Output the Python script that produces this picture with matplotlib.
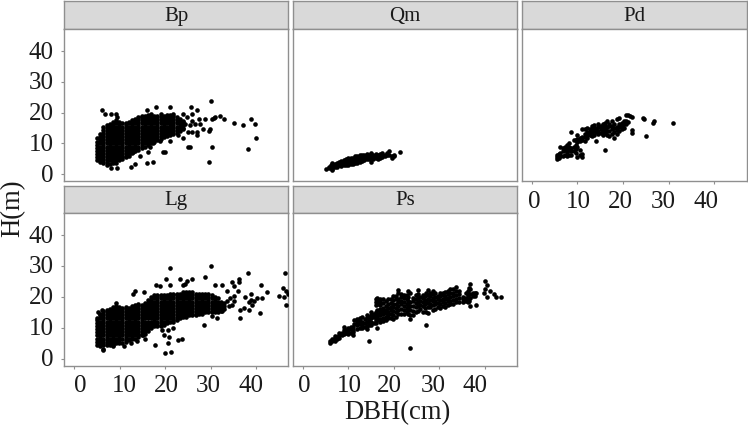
#! /usr/bin/env python

import matplotlib
matplotlib.use("Agg")
import matplotlib.pyplot as plt

plt.rcParams["font.family"] = ["Liberation Serif", "DejaVu Serif"]

W, H = 748.0, 430.0
DOT = 11
EDGE = "#8f8f8f"

tick_vals = [0, 10, 20, 30, 40]

# each entry: DBH, then the heights measured at about that DBH
bp_cols = [
    (5.0, [4.5, 5.5, 6.5, 7.5, 8.5, 9.5, 10.5, 11.8]),
    (5.7, [4, 5, 6, 7, 8, 9, 10, 11, 12, 13]),
    (6.4, [3.5, 4.5, 5.5, 6.5, 7.5, 8.5, 9.5, 10.5, 11.5, 12.5, 13.5, 14.5, 15.2]),
    (7.1, [3, 4, 5, 6, 7, 8, 9, 10, 11, 12, 13, 14, 15, 16]),
    (7.8, [3.2, 4.5, 5.5, 6.5, 7.5, 8.5, 9.5, 10.5, 11.5, 12.5, 13.5, 14.5, 15.5, 16.4]),
    (8.5, [3.5, 4, 5, 6, 7, 8, 9, 10, 11, 12, 13, 14, 15, 16, 17]),
    (9.2, [3.5, 4.5, 5.5, 6.5, 7.5, 8.5, 9.5, 10.5, 11.5, 12.5, 13.5, 14.5, 15.5, 16.5, 17.5]),
    (9.9, [4.5, 5, 6, 7, 8, 9, 10, 11, 12, 13, 14, 15, 16, 17]),
    (10.6, [5, 5.5, 6.5, 7.5, 8.5, 9.5, 10.5, 11.5, 12.5, 13.5, 14.5, 15.5, 16.5]),
    (11.3, [5.5, 6, 7, 8, 9, 10, 11, 12, 13, 14, 15, 16, 16.6]),
    (12.0, [6, 6.5, 7.5, 8.5, 9.5, 10.5, 11.5, 12.5, 13.5, 14.5, 15.5, 16.5, 17]),
    (12.7, [7, 8, 9, 10, 11, 12, 13, 14, 15, 16, 17, 17.6]),
    (13.4, [7.5, 8.5, 9.5, 10.5, 11.5, 12.5, 13.5, 14.5, 15.5, 16.5, 17.5, 18]),
    (14.1, [8, 9, 10, 11, 12, 13, 14, 15, 16, 17, 18, 18.6]),
    (14.8, [8.5, 9.5, 10.5, 11.5, 12.5, 13.5, 14.5, 15.5, 16.5, 17.5, 18.5, 19]),
    (15.5, [9, 10, 11, 12, 13, 14, 15, 16, 17, 18, 19]),
    (16.2, [9.5, 10.5, 11.5, 12.5, 13.5, 14.5, 15.5, 16.5, 17.5, 18.5, 19.2]),
    (16.9, [10, 11, 12, 13, 14, 15, 16, 17, 18, 19, 19.6]),
    (17.6, [10.5, 11.5, 12.5, 13.5, 14.5, 15.5, 16.5, 17.5, 18.5, 19]),
    (18.3, [11, 12, 13, 14, 15, 16, 17, 18, 19]),
    (19.0, [11.5, 12.5, 13.5, 14.5, 15.5, 16.5, 17.5, 18.5, 19.5]),
    (19.7, [12, 13, 14, 15, 16, 17, 18, 19]),
    (20.4, [12.5, 13.5, 14.5, 15.5, 16.5, 17.5, 18.5, 19.2]),
    (21.1, [12.6, 13.6, 14.6, 15.6, 16.6, 17.6, 18.6, 19.2]),
    (21.8, [13, 14, 15, 16, 17, 18, 19, 19.5]),
    (22.5, [13.5, 14.5, 15.5, 16.5, 17.5, 18.5]),
    (23.2, [14, 15, 16, 17, 18]),
    (23.9, [15, 16, 17]),
]
bp_x = [6.0, 6.8, 8.0, 9.1, 9.3, 16.0, 17.9, 21.0, 24.0, 25.6, 27.0, 30.0, 25.9, 24.8, 23.9, 24.4, 25.9,
        25.5, 26.5, 24.0, 25.1, 25.9, 27.0, 27.0, 27.5, 27.7, 28.3, 28.8, 29.9, 29.6, 30.3, 31.0, 32.1,
        33.0, 30.7, 35.1, 37.2, 39.0, 39.7, 40.0, 38.3, 30.2, 25.1, 25.5, 29.6, 23.9, 22.9, 21.0, 19.5,
        20.0, 18.9, 17.4, 16.0, 13.4, 12.4, 9.5, 8.0, 14.5, 16.3, 16.7, 17.4, 13.0]
bp_y = [20.8, 19.7, 19.7, 19.7, 18.6, 20.8, 21.8, 21.8, 19.7, 21.8, 20.8, 23.8, 19.7, 18.6, 17.3, 16.3, 17.3,
        16.0, 16.3, 14.8, 13.8, 13.8, 13.8, 12.7, 17.8, 16.3, 14.8, 17.8, 14.8, 14.1, 17.8, 18.6, 18.9,
        17.8, 18.4, 16.8, 15.9, 17.8, 16.3, 11.8, 8.3, 8.8, 8.8, 8.8, 4.0, 11.8, 12.7, 10.8, 7.3,
        7.3, 10.8, 4.0, 3.8, 3.3, 2.4, 2.0, 2.0, 5.9, 7.3, 8.9, 10.0, 7.3]

qm_cols = [
    (5.1, [1.8]), (5.7, [2.3, 1.9]), (6.2, [2.2, 3.0]), (6.5, [1.3, 1.8, 2.6, 3.5]), (7.0, [2.5, 3.2]),
    (7.5, [2.4, 3.0, 3.7]), (8.0, [2.9, 3.5, 4.0]), (8.5, [2.8, 3.4, 4.2]), (9.0, [3.1, 3.7, 4.5]),
    (9.5, [3.0, 3.6, 4.2, 4.8]), (10.0, [3.1, 3.8, 4.5, 5.2]), (10.5, [3.3, 4.0, 4.6, 5.4]),
    (11.0, [3.2, 3.9, 4.6, 5.3]), (11.5, [3.6, 4.3, 5.0, 5.8]), (12.0, [3.8, 4.5, 5.2, 6.0]),
    (12.5, [4.1, 4.7, 5.4, 6.2]), (13.0, [4.4, 5.0, 5.7, 6.4]), (13.5, [4.6, 5.2, 5.9, 6.4]),
    (14.0, [4.8, 5.4, 6.2, 6.6]), (14.5, [5.0, 5.7, 6.4]), (15.0, [3.9, 5.2, 5.9, 6.8]),
    (15.5, [5.0, 5.6, 6.3]), (16.0, [5.2, 6.0, 6.6]), (16.5, [5.0, 5.7, 6.4]), (17.0, [5.3, 6.0, 6.6]),
    (17.5, [5.6, 6.3, 6.8]), (18.0, [5.8, 6.4]), (18.5, [6.2, 6.8]), (19.0, [7.4, 6.4]),
    (19.6, [6.0, 5.3]), (20.0, [6.4, 5.9]), (21.3, [7.3]),
]

pd_cols = [
    (5.5, [4.8, 5.6, 6.2]), (5.9, [5.2, 6.5]), (6.3, [6.0, 6.8, 8.9]), (6.8, [6.0, 7.4, 8.4]),
    (7.3, [6.2, 7.8, 8.8]), (7.8, [6.0, 7.2, 8.6, 9.4]), (8.2, [6.4, 8.0, 9.0, 10.0]),
    (8.6, [6.4, 7.6, 8.6, 13.8]), (9.2, [7.4, 9.0, 11.0]), (9.6, [6.8, 8.2, 9.6, 11.0]),
    (9.9, [5.6, 9.0, 10.6, 11.6, 12.9]), (10.5, [6.2, 7.8, 10.8, 11.8]), (11.0, [5.6, 6.7, 11.2, 12.2, 14.8]),
    (11.6, [10.8, 12.0, 13.0, 14.8]), (12.2, [11.8, 12.8, 13.8, 15.0]), (12.7, [12.6, 13.6, 14.6]),
    (13.2, [12.4, 13.6, 14.6, 15.6]), (13.7, [12.8, 14.0, 15.2, 16.0]), (14.0, [10.8, 13.6, 14.8]),
    (14.6, [13.0, 14.2, 15.4, 16.2]), (15.1, [13.4, 14.6, 15.8]), (15.6, [12.8, 14.0, 15.0, 16.2]),
    (16.0, [7.8, 13.4, 14.6, 15.6, 16.8]), (16.5, [12.6, 14.2, 15.4, 17.4]), (17.0, [12.4, 14.2, 15.6, 16.4]),
    (17.5, [13.2, 14.6, 15.8, 17.4]), (18.0, [11.9, 13.8, 15.0, 16.2]), (18.6, [13.0, 14.4, 15.4, 17.8]),
    (19.2, [14.2, 15.2, 16.2, 18.2]), (19.7, [14.6, 15.8, 16.6]), (20.2, [15.0, 16.2, 17.2]),
    (20.7, [16.4, 17.2, 19.4]), (21.0, [17.0, 19.2]), (21.6, [18.9]), (22.0, [13.4, 14.3, 18.6]),
    (24.4, [18.3]), (24.7, [17.9]), (25.0, [12.4]), (26.5, [16.8]), (26.8, [17.3]), (30.9, [16.8]),
]

lg_cols = [
    (5.0, [4.5, 5.5, 6.5, 7.5, 8.5, 9.5, 10.5, 11.5, 12.5, 13]),
    (5.7, [4, 5, 6, 7, 8, 9, 10, 11, 12, 13, 14, 14.5]),
    (6.4, [3.2, 4.5, 5.5, 6.5, 7.5, 8.5, 9.5, 10.5, 11.5, 12.5, 13.5, 14.5, 15.5]),
    (7.1, [4.5, 5, 6, 7, 8, 9, 10, 11, 12, 13, 14, 15, 15.6]),
    (7.8, [4.5, 5.5, 6.5, 7.5, 8.5, 9.5, 10.5, 11.5, 12.5, 13.5, 14.5, 15.5, 16]),
    (8.5, [4.5, 5, 6, 7, 8, 9, 10, 11, 12, 13, 14, 15, 16, 16.6]),
    (9.2, [5, 5.5, 6.5, 7.5, 8.5, 9.5, 10.5, 11.5, 12.5, 13.5, 14.5, 15.5, 16.5, 17.2]),
    (9.9, [5, 6, 7, 8, 9, 10, 11, 12, 13, 14, 15, 16, 16.6]),
    (10.6, [5.2, 6.5, 7.5, 8.5, 9.5, 10.5, 11.5, 12.5, 13.5, 14.5, 15.5, 16.5]),
    (11.3, [5.5, 6, 7, 8, 9, 10, 11, 12, 13, 14, 15, 16, 16.6]),
    (12.0, [6, 6.5, 7.5, 8.5, 9.5, 10.5, 11.5, 12.5, 13.5, 14.5, 15.5, 16.5]),
    (12.7, [6.5, 7, 8, 9, 10, 11, 12, 13, 14, 15, 16, 17]),
    (13.4, [6.5, 7.5, 8.5, 9.5, 10.5, 11.5, 12.5, 13.5, 14.5, 15.5, 16.5, 17.5]),
    (14.1, [7, 8, 9, 10, 11, 12, 13, 14, 15, 16, 17, 17.6]),
    (14.8, [7.5, 8.5, 9.5, 10.5, 11.5, 12.5, 13.5, 14.5, 15.5, 16.5, 17.5]),
    (15.5, [8, 9, 10, 11, 12, 13, 14, 15, 16, 17, 18]),
    (16.2, [9, 10, 11, 12, 13, 14, 15, 16, 17, 18, 19]),
    (16.9, [10, 11, 12, 13, 14, 15, 16, 17, 18, 19, 20]),
    (17.6, [10.5, 11.5, 12.5, 13.5, 14.5, 15.5, 16.5, 17.5, 18.5, 19.5, 20.5]),
    (18.3, [10.5, 11, 12, 13, 14, 15, 16, 17, 18, 19, 20, 20.6]),
    (19.0, [10.5, 11.5, 12.5, 13.5, 14.5, 15.5, 16.5, 17.5, 18.5, 19.5, 20.5]),
    (19.7, [11, 12, 13, 14, 15, 16, 17, 18, 19, 20, 20.6]),
    (20.4, [11.5, 12.5, 13.5, 14.5, 15.5, 16.5, 17.5, 18.5, 19.5, 20.5]),
    (21.1, [12, 13, 14, 15, 16, 17, 18, 19, 20, 21]),
    (21.8, [12, 12.5, 13.5, 14.5, 15.5, 16.5, 17.5, 18.5, 19.5, 20.5, 21]),
    (22.5, [12.5, 13, 14, 15, 16, 17, 18, 19, 20, 21]),
    (23.2, [13, 13.5, 14.5, 15.5, 16.5, 17.5, 18.5, 19.5, 20.5, 21]),
    (23.9, [13.5, 14, 15, 16, 17, 18, 19, 20, 21, 21.5]),
    (24.6, [13.5, 14.5, 15.5, 16.5, 17.5, 18.5, 19.5, 20.5, 21.5]),
    (25.3, [14, 15, 16, 17, 18, 19, 20, 21, 21.5]),
    (26.0, [14, 14.5, 15.5, 16.5, 17.5, 18.5, 19.5, 20.5, 21.5]),
    (26.7, [14, 15, 16, 17, 18, 19, 20, 21]),
    (27.4, [14.5, 15.5, 16.5, 17.5, 18.5, 19.5, 20.5, 21]),
    (28.1, [14.5, 15, 16, 17, 18, 19, 20, 21]),
    (28.8, [15, 15.5, 16.5, 17.5, 18.5, 19.5, 20.5, 21]),
    (29.5, [15, 16, 17, 18, 19, 20, 21]),
    (30.2, [15, 15.5, 16.5, 17.5, 18.5, 19.5, 20.5]),
    (30.9, [15, 16, 17, 18, 19, 20]),
    (31.6, [15, 15.5, 16.5, 17.5, 18.5, 19.5]),
    (32.3, [15.5, 16.5, 17.5, 18.5]),
    (33.0, [16, 17, 18]),
]
lg_x = [21.1, 30.0, 20.1, 23.3, 24.9, 25.9, 24.4, 24.0, 28.7, 31.0, 32.5, 34.7, 36.2, 36.2, 35.1, 38.3, 41.1,
        46.3, 46.0, 46.5, 42.4, 45.0, 46.1, 46.7, 47.0, 41.3, 40.2, 38.9, 37.6, 38.8, 38.4, 39.5, 39.1,
        38.4, 37.3, 36.4, 40.8, 36.4, 33.6, 36.0, 35.1, 34.3, 33.6, 35.1, 34.7, 34.0, 32.5, 31.4, 30.3,
        28.5, 13.4, 12.9, 15.4, 17.9, 18.9, 21.1, 17.8, 20.0, 21.3, 22.8, 23.8, 20.7, 19.8, 20.9, 19.4,
        20.6, 21.8, 11.0, 12.4, 13.8, 15.6, 15.2, 14.1, 5.3, 6.0, 9.2, 8.6, 6.4]
lg_y = [29.4, 29.9, 25.8, 25.8, 25.0, 25.8, 24.2, 24.0, 26.5, 24.0, 24.0, 24.9, 25.8, 24.9, 23.5, 27.9, 24.0,
        27.9, 22.9, 22.0, 21.5, 20.4, 20.0, 17.5, 21.0, 19.7, 19.7, 21.0, 19.9, 19.1, 18.4, 18.6, 17.3,
        15.9, 16.4, 15.9, 14.9, 13.0, 21.8, 21.8, 20.2, 19.7, 18.6, 18.6, 17.3, 17.0, 15.4, 13.0, 13.7,
        11.0, 21.8, 21.0, 21.5, 24.0, 23.5, 24.0, 4.5, 1.8, 2.0, 5.9, 6.5, 5.0, 7.5, 6.9, 9.4,
        9.4, 10.0, 4.0, 4.9, 5.8, 6.2, 7.8, 7.8, 15.0, 15.9, 18.1, 4.0, 2.9]

ps_cols = [
    (5.9, [5.0, 5.8]), (6.4, [5.6, 6.4]), (7.0, [5.8, 6.6, 7.2]), (7.5, [6.2, 7.0]), (8.0, [6.8, 7.6, 8.2]),
    (8.6, [7.5, 8.3]), (9.0, [8.0, 9.2, 10.2]), (9.6, [8.2, 9.4]), (10.0, [8.0, 9.0, 10.0]),
    (10.6, [8.2, 9.6, 10.4]), (11.0, [7.8, 8.6, 9.4, 10.2]), (11.3, [11.2, 12.4]), (12.0, [9.6, 10.8, 11.8, 12.8]),
    (12.6, [10.0, 11.2, 12.2, 13.2]), (13.1, [10.0, 11.0, 12.0, 13.4]), (13.6, [10.2, 11.6, 12.8]),
    (14.0, [9.6, 10.6, 12.0, 13.0, 14.0]), (14.5, [5.8, 10.8, 12.2, 13.4]), (15.0, [11.0, 12.0, 13.0, 14.2, 15.2]),
    (15.6, [11.6, 13.4, 14.6]), (16.0, [11.4, 12.4, 13.6, 15.0, 17.5, 18.4, 19.2]),
    (16.4, [10.0, 12.4, 13.4, 14.6, 15.6, 17.6, 18.6, 19.6]), (17.0, [11.8, 12.8, 14.0, 15.0, 16.0, 17.4, 18.4, 19.4]),
    (17.6, [12.2, 13.2, 14.4, 15.4, 16.4, 18.0, 19.4]), (18.2, [12.4, 13.6, 14.8, 15.8, 17.0, 18.6]),
    (18.8, [13.0, 14.0, 15.2, 16.4, 17.6, 19.2]), (19.4, [13.2, 14.4, 15.6, 16.8, 18.0, 19.4]),
    (19.9, [12.7, 14.2, 15.4, 16.6, 17.8, 19.0, 20.4]), (20.4, [13.6, 15.0, 16.4, 17.8, 19.2, 20.2]),
    (21.0, [14.6, 15.8, 17.0, 18.2, 19.4, 21.3, 22.2]), (21.6, [14.6, 16.2, 17.6, 18.8, 20.0, 21.0]),
    (22.2, [14.4, 15.6, 17.0, 18.2, 19.6, 20.6]), (22.8, [15.0, 16.4, 17.8, 19.2, 20.6]),
    (23.2, [14.6, 16.0, 17.4, 18.6, 20.0, 22.0]), (23.5, [3.5, 12.9, 14.0, 15.6, 17.0, 18.4, 21.2]),
    (24.2, [14.2, 15.4, 17.2, 18.6, 19.8]), (24.8, [15.0, 16.6, 18.0, 19.4, 20.6]),
    (25.2, [15.4, 17.0, 18.4, 19.6, 21.0, 22.2]), (25.8, [16.0, 17.4, 18.8, 20.0]),
    (26.3, [15.2, 17.0, 18.4, 19.6, 20.6]), (26.8, [16.4, 17.8, 19.0, 20.2]),
    (27.0, [11.0, 15.0, 18.4, 21.2]), (27.5, [14.9, 16.6, 18.0, 19.2, 20.6, 22.2]),
    (28.0, [16.6, 17.8, 19.0, 20.2, 21.4]), (28.6, [15.6, 17.4, 18.6, 19.8, 21.0, 22.0]),
    (29.1, [16.2, 17.6, 18.8, 20.0, 21.2]), (29.6, [16.6, 18.0, 19.2, 20.4]), (30.2, [16.4, 17.8, 19.0, 20.2, 21.2]),
    (30.8, [17.2, 18.4, 19.4, 20.6, 21.4]), (31.3, [16.8, 18.0, 19.2, 20.4, 21.6]),
    (31.9, [17.4, 18.6, 19.8, 21.0, 22.0]), (32.4, [17.6, 18.8, 20.0, 21.2, 22.4]),
    (33.0, [17.8, 19.0, 20.2, 21.4, 22.6]), (33.6, [18.2, 19.4, 20.6, 21.8, 23.3]), (34.2, [18.4, 19.6, 20.8, 22.0]),
    (35.2, [18.2, 19.2, 20.0]), (35.8, [18.6, 19.8, 21.2]), (36.2, [18.4, 19.4, 20.6, 22.0]),
    (36.8, [17.0, 19.6, 21.0, 22.6, 24.2]), (36.6, [18.8, 22.8]), (37.4, [20.2, 21.2]), (37.9, [21.3, 20.4]),
    (38.1, [17.5, 21.3]), (39.9, [21.3]), (40.0, [22.4, 25.0]), (40.4, [19.9, 24.0]), (41.0, [22.0]),
    (41.9, [21.1]), (42.5, [19.9]), (43.6, [19.9]),
]

# x_label_shift in px: where the x tick labels sit relative to their ticks
panels = [
    ("Bp", 64.3, 288.3, 1.3, 29.3, 181.3, bp_cols, bp_x, bp_y, True, None),
    ("Qm", 292.7, 517.3, 1.3, 29.3, 181.3, qm_cols, [], [], False, None),
    ("Pd", 521.7, 746.7, 1.3, 29.3, 181.3, pd_cols, [], [], False, [3, 1, -2.5, -5, -8]),
    ("Lg", 64.3, 288.3, 186.3, 213.3, 365.7, lg_cols, lg_x, lg_y, True, [5.7, 5, 1, -2.7, -5]),
    ("Ps", 292.7, 517.3, 186.3, 213.3, 365.7, ps_cols, [], [], False, [1.7, 1, -4, -6, -10]),
]

fig = plt.figure(figsize=(W / 100, H / 100), dpi=100)


def box(x0, x1, top, bottom):
    return [x0 / W, 1 - bottom / H, (x1 - x0) / W, (bottom - top) / H]


for name, x0, x1, s_top, p_top, p_bot, cols, extra_x, extra_y, show_y, x_shift in panels:
    strip = fig.add_axes(box(x0, x1, s_top, p_top))
    strip.set_facecolor("#d9d9d9")
    strip.set_xticks([])
    strip.set_yticks([])
    strip.text(0.5, 0.46, name, transform=strip.transAxes, ha="center", va="center", fontsize=15, color="#1a1a1a")

    ax = fig.add_axes(box(x0, x1, p_top, p_bot))
    xs = list(extra_x)
    ys = list(extra_y)
    for dbh, heights in cols:
        xs += [dbh] * len(heights)
        ys += heights
    ax.scatter(xs, ys, s=DOT, color="black", linewidths=0, zorder=3)
    ax.set_xlim(-2.2, 47.1)
    ax.set_ylim(-2.3, 47.1)
    ax.set_xticks(tick_vals if x_shift else [])
    ax.set_yticks(tick_vals if show_y else [])
    ax.set_xticklabels([])
    ax.set_yticklabels([])
    ax.tick_params(length=2, width=0.8, color="#8f8f8f")

    if x_shift:
        for t, dx in zip(tick_vals, x_shift):
            ax.annotate(str(t), xy=(t, 0), xycoords=ax.get_xaxis_transform(),
                        xytext=(dx * 0.72, -7), textcoords="offset points",
                        ha="center", va="top", fontsize=18, color="#1a1a1a")
    if show_y:
        for t in tick_vals:
            ax.annotate(str(t), xy=(0, t), xycoords=ax.get_yaxis_transform(),
                        xytext=(-7.5, -1), textcoords="offset points",
                        ha="right", va="center", fontsize=18, color="#1a1a1a")

    for a in (strip, ax):
        for sp in a.spines.values():
            sp.set_color(EDGE)
            sp.set_linewidth(1.0)

fig.text(397 / W, 1 - 413 / H, "DBH(cm)", ha="center", va="center", fontsize=19.2, color="#1a1a1a")
fig.text(13 / W, 1 - 208 / H, "H(m)", rotation=90, ha="center", va="center", fontsize=19.2, color="#1a1a1a")

fig.savefig("out.png", dpi=100)
